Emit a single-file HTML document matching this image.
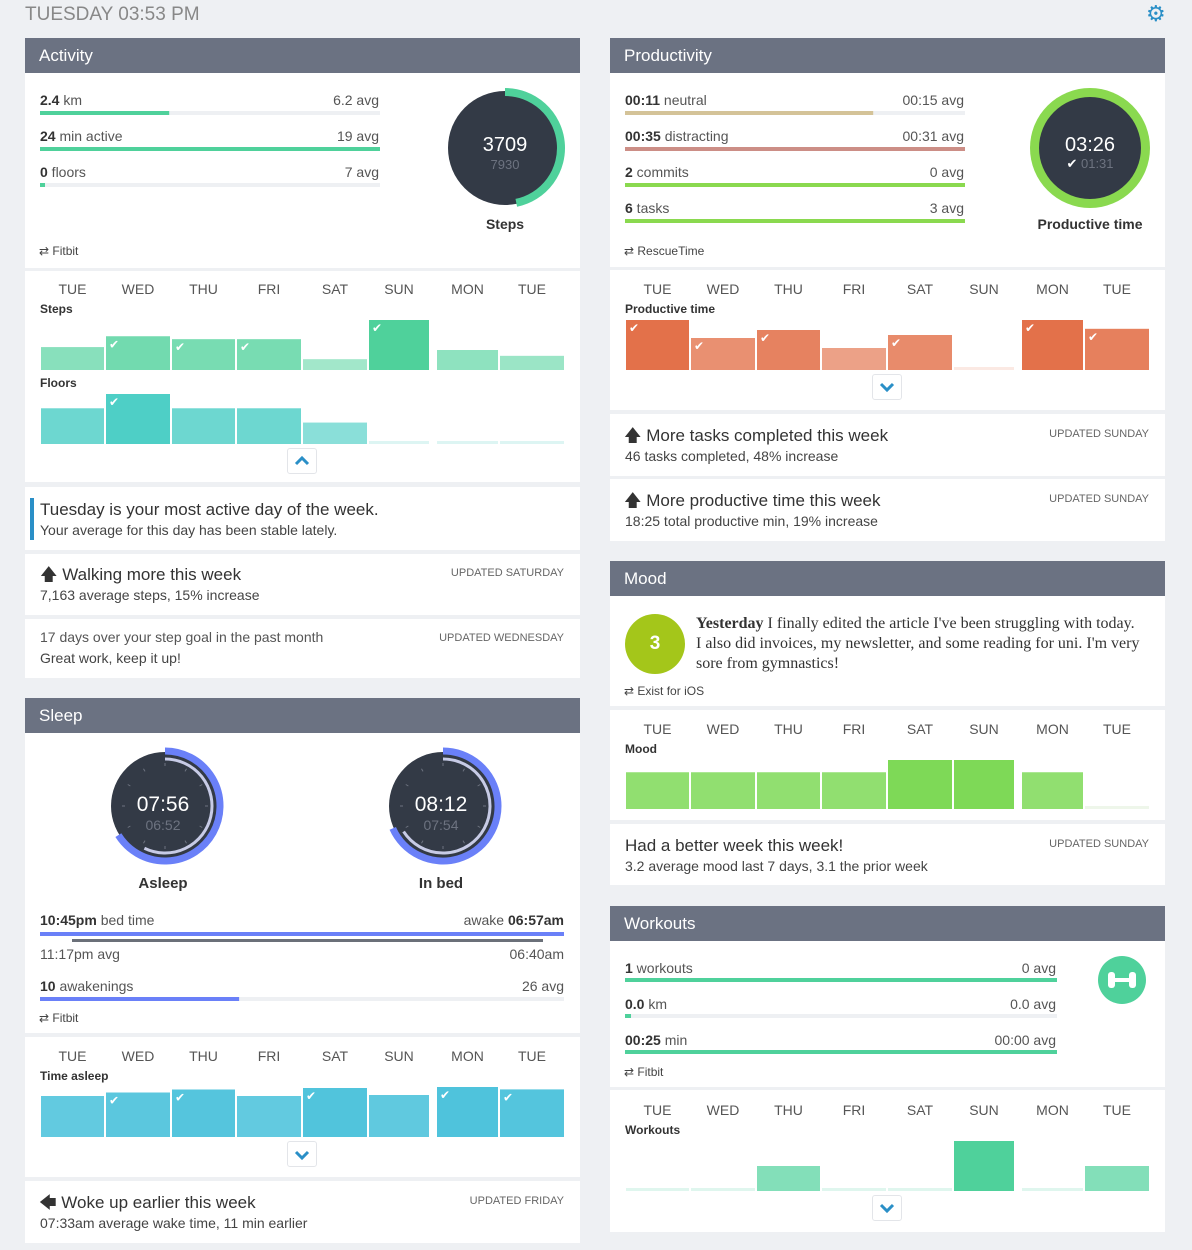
<!DOCTYPE html>
<html><head><meta charset="utf-8">
<style>
*{box-sizing:border-box;margin:0;padding:0}
body{width:1192px;height:1250px;background:#eef0f3;font-family:"Liberation Sans","DejaVu Sans",sans-serif;color:#555;position:relative;overflow:hidden}
.a{position:absolute;white-space:nowrap;line-height:18px}
.w{position:absolute;background:#fff}
.h{position:absolute;background:#6b7282;color:#fff;font-size:17px;line-height:35px;padding-left:14px;height:35px}
.t{font-size:14px;color:#555}
.t b{color:#333}
.r{text-align:right}
.src{font-size:12px;color:#444}
.ins{font-size:17px;color:#333}
.sub{font-size:14px;color:#444}
.upd{font-size:11px;color:#666}
.day{font-size:14px;color:#555;width:60px;text-align:center}
.lbl{font-size:12px;font-weight:bold;color:#333}
.btn{position:absolute;width:30px;height:26px;background:#fff;border:1px solid #e3e5e9;border-radius:3px}
svg{position:absolute;left:0;top:0}
</style></head><body>
<div class="a" style="left:25px;top:4px;font-size:19px;color:#888;line-height:22px">TUESDAY 03:53 PM</div>
<div class="a" style="left:1146px;top:2px;font-size:22px;color:#2a8fc7;line-height:24px">⚙</div>

<div class="h" style="left:25px;top:38px;width:555px">Activity</div>
<div class="w" style="left:25px;top:73px;width:555px;height:195px"></div>
<div class="w" style="left:25px;top:271px;width:555px;height:211px"></div>
<div class="w" style="left:25px;top:487px;width:555px;height:63px"></div>
<div class="w" style="left:25px;top:554px;width:555px;height:61px"></div>
<div class="w" style="left:25px;top:619px;width:555px;height:59px"></div>

<div class="h" style="left:25px;top:698px;width:555px">Sleep</div>
<div class="w" style="left:25px;top:733px;width:555px;height:300px"></div>
<div class="w" style="left:25px;top:1037px;width:555px;height:140px"></div>
<div class="w" style="left:25px;top:1181px;width:555px;height:62px"></div>

<div class="h" style="left:610px;top:38px;width:555px">Productivity</div>
<div class="w" style="left:610px;top:73px;width:555px;height:194px"></div>
<div class="w" style="left:610px;top:270px;width:555px;height:140px"></div>
<div class="w" style="left:610px;top:414px;width:555px;height:62px"></div>
<div class="w" style="left:610px;top:479px;width:555px;height:62px"></div>

<div class="h" style="left:610px;top:561px;width:555px">Mood</div>
<div class="w" style="left:610px;top:596px;width:555px;height:110px"></div>
<div class="w" style="left:610px;top:710px;width:555px;height:110px"></div>
<div class="w" style="left:610px;top:824px;width:555px;height:61px"></div>

<div class="h" style="left:610px;top:906px;width:555px">Workouts</div>
<div class="w" style="left:610px;top:941px;width:555px;height:146px"></div>
<div class="w" style="left:610px;top:1090px;width:555px;height:142px"></div>

<svg id="g" width="1192" height="1250"></svg>

<div class="a t" style="left:40px;top:91px"><b>2.4</b> km</div>
<div class="a t r" style="left:279px;top:91px;width:100px">6.2 avg</div>
<div class="a t" style="left:40px;top:127px"><b>24</b> min active</div>
<div class="a t r" style="left:279px;top:127px;width:100px">19 avg</div>
<div class="a t" style="left:40px;top:163px"><b>0</b> floors</div>
<div class="a t r" style="left:279px;top:163px;width:100px">7 avg</div>
<div class="a" style="left:455px;top:133px;width:100px;text-align:center;font-size:20px;color:#fff;line-height:24px">3709</div>
<div class="a" style="left:455px;top:156px;width:100px;text-align:center;font-size:13px;color:#6d7380">7930</div>
<div class="a" style="left:455px;top:215px;width:100px;text-align:center;font-size:14px;font-weight:bold;color:#333">Steps</div>
<div class="a src" style="left:39px;top:242px">⇄ Fitbit</div>
<div class="a lbl" style="left:40px;top:300px">Steps</div>
<div class="a lbl" style="left:40px;top:374px">Floors</div>
<div class="btn" style="left:287px;top:448px"></div>
<div class="a" style="left:30px;top:498px;width:4px;height:42px;background:#2a8fc7"></div>
<div class="a ins" style="left:40px;top:500px;line-height:20px">Tuesday is your most active day of the week.</div>
<div class="a sub" style="left:40px;top:521px">Your average for this day has been stable lately.</div>
<div class="a ins" style="left:40px;top:565px;line-height:20px">🡅 Walking more this week</div>
<div class="a sub" style="left:40px;top:586px">7,163 average steps, 15% increase</div>
<div class="a upd r" style="left:364px;top:564px;width:200px">UPDATED SATURDAY</div>
<div class="a t" style="left:40px;top:628px">17 days over your step goal in the past month</div>
<div class="a sub" style="left:40px;top:649px">Great work, keep it up!</div>
<div class="a upd r" style="left:364px;top:629px;width:200px">UPDATED WEDNESDAY</div>

<div class="a" style="left:113px;top:793px;width:100px;text-align:center;font-size:21px;color:#fff;line-height:24px">07:56</div>
<div class="a" style="left:113px;top:816px;width:100px;text-align:center;font-size:14px;color:#6d7380">06:52</div>
<div class="a" style="left:113px;top:875px;width:100px;text-align:center;font-size:15px;font-weight:bold;color:#333">Asleep</div>
<div class="a" style="left:391px;top:793px;width:100px;text-align:center;font-size:21px;color:#fff;line-height:24px">08:12</div>
<div class="a" style="left:391px;top:816px;width:100px;text-align:center;font-size:14px;color:#6d7380">07:54</div>
<div class="a" style="left:391px;top:875px;width:100px;text-align:center;font-size:15px;font-weight:bold;color:#333">In bed</div>
<div class="a t" style="left:40px;top:911px"><b>10:45pm</b> bed time</div>
<div class="a t r" style="left:364px;top:911px;width:200px">awake <b>06:57am</b></div>
<div class="a t" style="left:40px;top:945px">11:17pm avg</div>
<div class="a t r" style="left:364px;top:945px;width:200px">06:40am</div>
<div class="a t" style="left:40px;top:977px"><b>10</b> awakenings</div>
<div class="a t r" style="left:364px;top:977px;width:200px">26 avg</div>
<div class="a src" style="left:39px;top:1009px">⇄ Fitbit</div>
<div class="a lbl" style="left:40px;top:1067px">Time asleep</div>
<div class="btn" style="left:287px;top:1141px"></div>
<div class="a ins" style="left:39px;top:1193px;line-height:20px">🡄 Woke up earlier this week</div>
<div class="a sub" style="left:40px;top:1214px">07:33am average wake time, 11 min earlier</div>
<div class="a upd r" style="left:364px;top:1192px;width:200px">UPDATED FRIDAY</div>

<div class="a t" style="left:625px;top:91px"><b>00:11</b> neutral</div>
<div class="a t r" style="left:844px;top:91px;width:120px">00:15 avg</div>
<div class="a t" style="left:625px;top:127px"><b>00:35</b> distracting</div>
<div class="a t r" style="left:844px;top:127px;width:120px">00:31 avg</div>
<div class="a t" style="left:625px;top:163px"><b>2</b> commits</div>
<div class="a t r" style="left:844px;top:163px;width:120px">0 avg</div>
<div class="a t" style="left:625px;top:199px"><b>6</b> tasks</div>
<div class="a t r" style="left:844px;top:199px;width:120px">3 avg</div>
<div class="a" style="left:1040px;top:133px;width:100px;text-align:center;font-size:20px;color:#fff;line-height:24px">03:26</div>
<div class="a" style="left:1040px;top:155px;width:100px;text-align:center;font-size:13px;color:#6d7380"><span style="color:#fff">✔</span> 01:31</div>
<div class="a" style="left:1015px;top:215px;width:150px;text-align:center;font-size:14px;font-weight:bold;color:#333">Productive time</div>
<div class="a src" style="left:624px;top:242px">⇄ RescueTime</div>
<div class="a lbl" style="left:625px;top:300px">Productive time</div>
<div class="btn" style="left:872px;top:374px"></div>
<div class="a ins" style="left:624px;top:426px;line-height:20px">🡅 More tasks completed this week</div>
<div class="a sub" style="left:625px;top:447px">46 tasks completed, 48% increase</div>
<div class="a upd r" style="left:949px;top:425px;width:200px">UPDATED SUNDAY</div>
<div class="a ins" style="left:624px;top:491px;line-height:20px">🡅 More productive time this week</div>
<div class="a sub" style="left:625px;top:512px">18:25 total productive min, 19% increase</div>
<div class="a upd r" style="left:949px;top:490px;width:200px">UPDATED SUNDAY</div>

<div class="a" style="left:625px;top:632px;width:60px;text-align:center;font-size:19px;font-weight:bold;color:#fff;line-height:24px">3</div>
<div class="a" style="left:696px;top:614px;font-family:'Liberation Serif',serif;font-size:16px;color:#333;line-height:20px;white-space:normal;width:446px"><b>Yesterday</b> I finally edited the article I've been struggling with today. I also did invoices, my newsletter, and some reading for uni. I'm very sore from gymnastics!</div>
<div class="a src" style="left:624px;top:682px">⇄ Exist for iOS</div>
<div class="a lbl" style="left:625px;top:740px">Mood</div>
<div class="a ins" style="left:625px;top:836px;line-height:20px">Had a better week this week!</div>
<div class="a sub" style="left:625px;top:857px">3.2 average mood last 7 days, 3.1 the prior week</div>
<div class="a upd r" style="left:949px;top:835px;width:200px">UPDATED SUNDAY</div>

<div class="a t" style="left:625px;top:959px"><b>1</b> workouts</div>
<div class="a t r" style="left:936px;top:959px;width:120px">0 avg</div>
<div class="a t" style="left:625px;top:995px"><b>0.0</b> km</div>
<div class="a t r" style="left:936px;top:995px;width:120px">0.0 avg</div>
<div class="a t" style="left:625px;top:1031px"><b>00:25</b> min</div>
<div class="a t r" style="left:936px;top:1031px;width:120px">00:00 avg</div>
<div class="a src" style="left:624px;top:1063px">⇄ Fitbit</div>
<div class="a lbl" style="left:625px;top:1121px">Workouts</div>
<div class="btn" style="left:872px;top:1195px"></div>

<div id="days"></div>
<script>
const days = ["TUE","WED","THU","FRI","SAT","SUN","MON","TUE"];
const stepsValues = [5500, 8100, 7400, 7400, 2600, 12000, 4800, 3400];
const stepsChecks = [0,1,1,1,0,1,0,0];
const floorsValues = [10, 14, 10, 10, 6, 0, 0, 0];
const floorsChecks = [0,1,0,0,0,0,0,0];
const sleepValues = [410, 445, 475, 410, 490, 420, 500, 476];
const sleepChecks = [0,1,1,0,1,0,1,1];
const productiveValues = [250, 160, 200, 110, 175, 0, 250, 206];
const productiveChecks = [1,1,1,0,1,0,1,1];
const moodValues = [3, 3, 3, 3, 4, 4, 3, 0];
const workoutValues = [0, 0, 1, 0, 0, 2, 0, 1];

const NS = "http://www.w3.org/2000/svg";
const g = document.getElementById("g");
const colStart = [16,81,147,212,278,344,412,475];
const colW = [63,64,63,64,64,60,61,64];
function el(tag, attrs){const e=document.createElementNS(NS,tag);for(const k in attrs)e.setAttribute(k,attrs[k]);g.appendChild(e);return e;}

function bars(name, panelX, baseY, maxH, values, maxV, color, light, checks){
  values.forEach((v,i)=>{
    const h = v>0 ? v/maxV*maxH : 3;
    const op = v>0 ? 0.4+0.6*v/Math.max(...values) : 1;
    const r = el("rect",{x:panelX+colStart[i],y:baseY-h,width:colW[i],height:h,fill:v>0?color:light,"fill-opacity":op});
    
    
    if(checks && checks[i] && v>0){
      const c = el("text",{x:panelX+colStart[i]+3,y:baseY-h+12,fill:"#fff","font-size":"12","font-family":"DejaVu Sans"});
      c.textContent="✔";
      
      
    }
  });
}
function dayLabels(panelX, y){
  const box=document.getElementById("days");
  days.forEach((d,i)=>{
    const e=document.createElement("div");
    e.className="a day";
    e.style.left=(panelX+colStart[i]+colW[i]/2-30)+"px";
    e.style.top=(y-9)+"px";
    e.textContent=d;
    
    
    box.appendChild(e);
  });
}
bars("steps",25,370,50,stepsValues,12000,"#4fd19b","#e0f6ee",stepsChecks);
bars("floors",25,444,50,floorsValues,14,"#4ecfc6","#ddf5f3",floorsChecks);
bars("sleep",25,1137,50,sleepValues,500,"#4fc3dc","#ddf2f7",sleepChecks);
bars("productive",610,370,50,productiveValues,250,"#e3714a","#fbe9e3",productiveChecks);
bars("mood",610,809,49,moodValues,4,"#7ed957","#eef6ea",null);
bars("workouts",610,1191,50,workoutValues,2,"#4fd19b","#dff6ee",null);
dayLabels(25,289);dayLabels(25,1056);dayLabels(610,289);dayLabels(610,729);dayLabels(610,1110);

function hbar(x,y,w,frac,color,track){
  el("rect",{x:x,y:y,width:w,height:4,fill:track||"#eef0f3"});
  el("rect",{x:x,y:y,width:w*frac,height:4,fill:color});
}
hbar(40,111,340,0.38,"#4fd19b");hbar(40,147,340,1,"#4fd19b");hbar(40,183,340,0,"#4fd19b");
hbar(625,111,340,0.73,"#d4c398");hbar(625,147,340,1,"#cc8e86");hbar(625,183,340,1,"#8ad94f");hbar(625,219,340,1,"#8ad94f");
hbar(625,978,432,1,"#4fd19b");hbar(625,1014,432,0,"#4fd19b");hbar(625,1050,432,1,"#4fd19b");
el("rect",{x:625,y:1014,width:6,height:4,fill:"#4fd19b"});
el("rect",{x:40,y:183,width:5,height:4,fill:"#4fd19b"});
hbar(40,932,524,1,"#6a80f8");
el("rect",{x:72,y:939,width:471,height:3,fill:"#6b7079"});
hbar(40,997,524,0.38,"#6a80f8");

function arc(cx,cy,r,a0,a1,color,w){
  const p=a=>[cx+r*Math.sin(a*Math.PI/180),cy-r*Math.cos(a*Math.PI/180)];
  const [x0,y0]=p(a0),[x1,y1]=p(a1);
  el("path",{d:`M${x0} ${y0} A${r} ${r} 0 ${a1-a0>180?1:0} 1 ${x1} ${y1}`,stroke:color,"stroke-width":w,fill:"none"});
}
el("circle",{cx:505,cy:148,r:57,fill:"#333a46"});
arc(505,148,56,0,3709/7930*360,"#4fd19b",8);
el("circle",{cx:1090,cy:148,r:60,fill:"#8ad94f"});
el("circle",{cx:1090,cy:148,r:51,fill:"#333a46"});
function sleepRing(cx,cy,mins,avg){
  el("circle",{cx:cx,cy:cy,r:54,fill:"#333a46"});
  for(let i=0;i<12;i++){const a=i*30*Math.PI/180;
    el("line",{x1:cx+40*Math.sin(a),y1:cy-40*Math.cos(a),x2:cx+43*Math.sin(a),y2:cy-43*Math.cos(a),stroke:"#6d7380","stroke-width":1});}
  arc(cx,cy,47,0,avg/720*360,"#c7cbe6",3);
  arc(cx,cy,55,0,mins/720*360,"#6a80f8",7);
}
sleepRing(165,806,476,412);
sleepRing(443,806,492,474);
el("circle",{cx:655,cy:644,r:30,fill:"#a4c61a"});
el("circle",{cx:1122,cy:980,r:24,fill:"#4fd19b"});
el("rect",{x:1108,y:972,width:7,height:16,rx:3,fill:"#fff"});
el("rect",{x:1129,y:972,width:7,height:16,rx:3,fill:"#fff"});
el("rect",{x:1114,y:978,width:16,height:4,fill:"#fff"});
</script>
<svg width="1192" height="1250" style="pointer-events:none">
<path d="M296 464 L302 458 L308 464" stroke="#2a8fc7" stroke-width="3" fill="none"/>
<path d="M881 384 L887 390 L893 384" stroke="#2a8fc7" stroke-width="3" fill="none"/>
<path d="M296 1152 L302 1158 L308 1152" stroke="#2a8fc7" stroke-width="3" fill="none"/>
<path d="M881 1205 L887 1211 L893 1205" stroke="#2a8fc7" stroke-width="3" fill="none"/>
</svg>
</body></html>
